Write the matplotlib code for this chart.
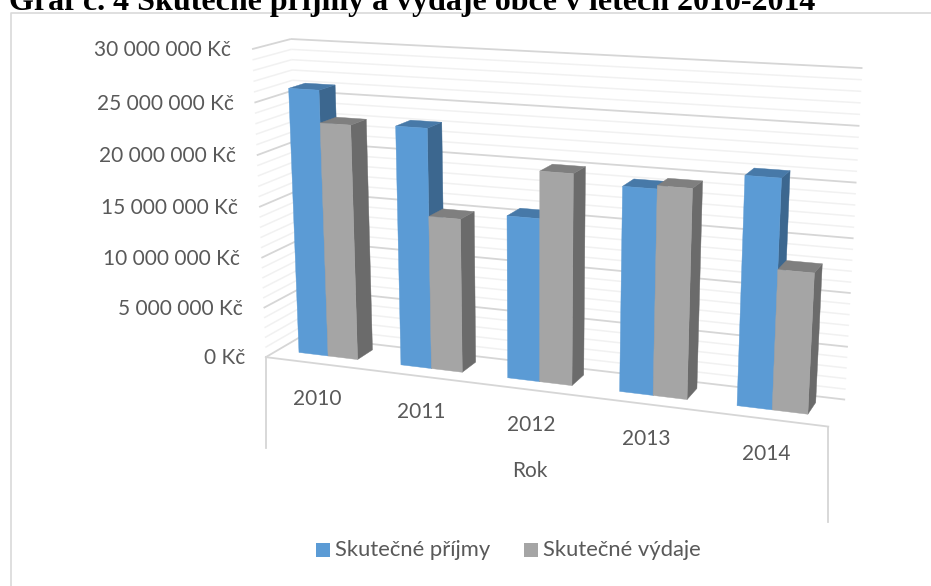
import numpy as np
import matplotlib
matplotlib.use("Agg")
import matplotlib.pyplot as plt

# values
years = ["2010", "2011", "2012", "2013", "2014"]
prijmy = [26100000, 23200000, 15600000, 19200000, 21000000]
vydaje = [23000000, 14900000, 20000000, 19500000, 12900000]
y_ticks = [0, 5000000, 10000000, 15000000, 20000000, 25000000, 30000000]
y_labels = ["0 Kč", "5 000 000 Kč", "10 000 000 Kč", "15 000 000 Kč",
            "20 000 000 Kč", "25 000 000 Kč", "30 000 000 Kč"]
y_max = 30000000
series_names = ["Skutečné příjmy", "Skutečné výdaje"]

BLUE = ("#5b9bd5", "#4779a8", "#3c678f")
GRAY = ("#a5a5a5", "#7f7f7f", "#6b6b6b")
BAR_D0, BAR_D1 = 0.33, 0.77
GAP = 0.21

# camera fit to the corners of the plot box: (u, v, depth) -> pixel
calib = [
    ((0, 0, 0), (268, 356)), ((1, 0, 0), (828, 428)),
    ((1, 0, 1), (845, 398)), ((0, 0, 1), (300, 337)),
    ((0, 1, 0), (250, 49)), ((0, 1, 1), (293, 39)), ((1, 1, 1), (862, 68)),
    ((1, 5/6, 1), (859, 126)), ((1, 4/6, 1), (857, 183)),
    ((1, 3/6, 1), (854, 238)), ((1, 2/6, 1), (851, 293)),
    ((1, 1/6, 1), (848, 347)),
]
A, b = [], []
for (u, v, d), (px, py) in calib:
    A.append([u, v, d, 1, 0, 0, 0, 0, -px*u, -px*v, -px*d])
    b.append(px)
    A.append([0, 0, 0, 0, u, v, d, 1, -py*u, -py*v, -py*d])
    b.append(py)
p = np.linalg.lstsq(np.array(A, float), np.array(b, float), rcond=None)[0]
P = np.append(p, 1).reshape(3, 4)


def project(u, value, d):
    h = P @ np.array([u, value / y_max, d, 1.0])
    return h[0] / h[2], h[1] / h[2]


def draw_face(ax, pts, color, z=3):
    xy = [project(*q) for q in pts]
    ax.fill([q[0] for q in xy], [q[1] for q in xy], color=color, lw=0.3, zorder=z)


def draw_bar(ax, u0, u1, val, cols):
    d0, d1 = BAR_D0, BAR_D1
    draw_face(ax, [(u1, 0, d0), (u1, 0, d1), (u1, val, d1), (u1, val, d0)], cols[2])
    draw_face(ax, [(u0, val, d0), (u1, val, d0), (u1, val, d1), (u0, val, d1)], cols[1])
    draw_face(ax, [(u0, 0, d0), (u1, 0, d0), (u1, val, d0), (u0, val, d0)], cols[0])


def line3d(ax, a, b, color, lw, z=1):
    pa, pb = project(*a), project(*b)
    ax.plot([pa[0], pb[0]], [pa[1], pb[1]], color=color, lw=lw, zorder=z,
            solid_capstyle="butt")


plt.rcParams["font.family"] = "Lato"
fig = plt.figure(figsize=(9.31, 5.86), dpi=100)
ax = fig.add_axes([0, 0, 1, 1])
ax.set_xlim(0, 931)
ax.set_ylim(586, 0)
ax.axis("off")

# chart border
ax.plot([11, 11, 931], [586, 12.5, 12.5], color="#d9d9d9", lw=1.2)

# title is cut off by the top of the crop
ax.text(9, 10, "Graf č. 4 Skutečné příjmy a výdaje obce v letech 2010-2014",
        family="Liberation Serif", weight="bold", fontsize=23, color="black",
        va="baseline", ha="left")

# minor and major gridlines on both walls
for k in range(31):
    val = k * 1000000
    major = k % 5 == 0
    col = "#d6d6d6" if major else "#f1f1f1"
    lw = 1.3 if major else 1.1
    line3d(ax, (0, val, 0), (0, val, 1), col, lw, z=2 if major else 1)
    line3d(ax, (0, val, 1), (1, val, 1), col, lw, z=2 if major else 1)

# front of the floor and the two drop lines
fl = project(0, 0, 0)
fr = project(1, 0, 0)
ax.plot([fl[0], fr[0]], [fl[1], fr[1]], color="#d6d6d6", lw=1.3, zorder=2)
ax.plot([fl[0], fl[0]], [fl[1], 448], color="#d6d6d6", lw=1.3, zorder=2)
ax.plot([fr[0], fr[0]], [fr[1], 522], color="#d6d6d6", lw=1.3, zorder=2)

# bars
n = len(years)
cat_w = 1 / n
bar_w = cat_w * (1 - 2 * GAP) / 2
for i in range(n):
    u0 = i * cat_w + GAP * cat_w
    draw_bar(ax, u0, u0 + bar_w, prijmy[i], BLUE)
    draw_bar(ax, u0 + bar_w, u0 + 2 * bar_w, vydaje[i], GRAY)

# tick labels follow the slanted front edge of the side wall
text_col = "#595959"
for val, lab in zip(y_ticks, y_labels):
    x, y = project(0, val, 0)
    ax.text(x - 21, y + 1, lab, ha="right", va="center", fontsize=15, color=text_col)

for i, year in enumerate(years):
    x, y = project((i + 0.5) * cat_w, 0, 0)
    ax.text(x + 1, y + 35.5, year, ha="center", va="center", fontsize=15, color=text_col)

ax.text(530, 471, "Rok", ha="center", va="center", fontsize=15, color=text_col)

# legend
for sq_x, txt_x, col, name in [(316, 335, BLUE[0], series_names[0]),
                               (524, 543, GRAY[0], series_names[1])]:
    ax.fill([sq_x, sq_x + 14, sq_x + 14, sq_x], [543, 543, 557, 557], color=col, lw=0)
    ax.text(txt_x, 550, name, ha="left", va="center", fontsize=15.8, color=text_col)

fig.savefig("out.png", dpi=100)
